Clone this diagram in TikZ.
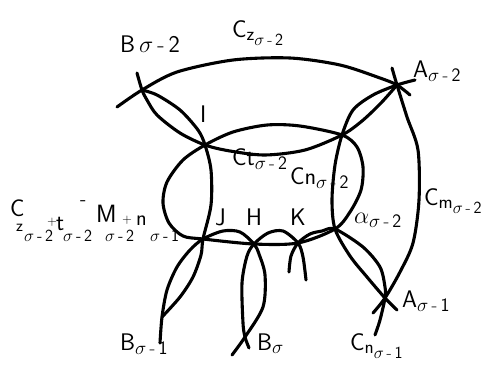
\RequirePackage{fix-cm}
\documentclass[tikz,border=0pt]{standalone}
\usepackage{amsmath}
\DeclareMathSizes{24}{24}{19}{17}
\newcommand\sm[1]{\sigma\,\text{-}\,\mathsf{#1}}
\newcommand\pp[4]{\put(#1,#2){\fontsize{#3}{#3}\selectfont\sffamily #4}}
\newcommand\sg[1]{$\sigma$\,-\,#1}
\begin{document}
\begin{tikzpicture}[x=1pt,y=-1pt,
  curve/.style={line width=3.1pt,line cap=round,line join=round},
  lab/.style={inner sep=0pt,anchor=base west,font=\fontsize{24}{28}\selectfont}]
\useasboundingbox (0,0) rectangle (488,373);
\coordinate (BB2) at (142,90);
\coordinate (AA2) at (397,85);
\coordinate (I) at (205,145);
\coordinate (CN) at (342,135);
\coordinate (J) at (203,239);
\coordinate (H) at (254,244);
\coordinate (K) at (298,243);
\coordinate (S2) at (335,229);
\coordinate (AA1) at (385,298);
\coordinate (BS) at (245,337);
\coordinate (B1) at (162,317);
% C_z arc
\draw[curve] plot[smooth] coordinates {(117,107) (BB2) (177,72) (233,60) (290,58) (340,65) (380,78) (AA2) (410,95)};
% Ct line
\draw[curve] plot[smooth] coordinates {(137,73) (BB2) (147,100) (157,115) (180,133) (I) (230,151) (265,155) (305,150) (CN) (362,121) (381,103) (AA2)};
% upper lens + vertical + lens to B sigma-1
\draw[curve] plot[smooth] coordinates {(BB2) (157,95) (180,110) (198,130) (I) (211,170) (211,205) (J) (201,255) (193,277) (180,297) (B1)};
% closed loop
\draw[curve] plot[smooth cycle] coordinates {(I) (233,132) (267,125) (300,126) (CN) (357,147) (363,167) (361,190) (350,212) (S2) (K) (H) (J) (183,236) (169,223) (163,203) (167,182) (183,160)};
% arch J-H and B sigma
\draw[curve] plot[smooth] coordinates {(160,343) (B1) (167,290) (177,267) (190,250) (J) (223,231) (240,232) (H) (259,254) (265,275) (263,307) (BS) (232,355)};
% arch H-K
\draw[curve] plot[smooth] coordinates {(249,348) (BS) (243,323) (242,283) (247,256) (H) (268,233) (283,231) (K) (303,257) (306,280)};
% arch K-S2 and on to A sigma-1
\draw[curve] plot[smooth] coordinates {(289,272) (291,256) (K) (310,234) (322,231) (S2) (363,247) (380,267) (385,287) (AA1) (380,320) (375,335)};
% Cn line
\draw[curve] plot[smooth] coordinates {(415,80) (AA2) (373,95) (353,110) (CN) (335,165) (332,200) (S2) (350,256) (367,277) (AA1) (397,310)};
% C_m arc
\draw[curve] plot[smooth] coordinates {(392,68) (AA2) (407,117) (418,150) (419,200) (413,243) (400,272) (AA1) (373,313)};
% labels
\node[lab] (lB2) at (120,52) {$\mathsf{B}\,\sm{2}$};
\node[lab] (lCz) at (232,37) {$\mathsf{C}_{\mathsf{z}_{\sm{2}}}$};
\node[lab] (lA2) at (413,77) {$\mathsf{A}_{\sm{2}}$};
\node[lab] (lI) at (200,122) {$\mathsf{I}$};
\node[lab] (lCt) at (232,165) {$\mathsf{Ct}_{\sm{2}}$};
\node[lab] (lCn) at (290,184) {$\mathsf{Cn}_{\sm{2}}$};
\node[lab] (lal) at (354,223) {$\alpha_{\sm{2}}$};
\node[lab] (lCm) at (424,205) {$\mathsf{C}_{\mathsf{m}_{\sm{2}}}$};
\node[lab] (lJ) at (215,225) {$\mathsf{J}$};
\node[lab] (lH) at (246,225) {$\mathsf{H}$};
\node[lab] (lK) at (290,225) {$\mathsf{K}$};
\node[inner sep=0pt,anchor=south west] (lsum) at (10,242) {\setlength{\unitlength}{1pt}\begin{picture}(160,45)
\pp{0}{25}{24}{C}
\pp{6}{10}{17}{z}
\pp{14}{0}{17}{\sg{2}}
\pp{37}{16}{13}{+}
\pp{46}{11}{24}{t}
\pp{53}{0}{17}{\sg{2}}
\pp{70}{36}{20}{-}
\pp{86}{19}{25}{M}
\pp{95}{0}{17}{\sg{2}}
\pp{112}{18}{13}{+}
\pp{126}{16}{22}{n}
\pp{140}{0}{17}{\sg{1}}
\end{picture}};
\node[lab] (lB1) at (120,350) {$\mathsf{B}_{\sm{1}}$};
\node[lab] (lBs) at (257,350) {$\mathsf{B}_{\sigma}$};
\node[lab] (lA1) at (402,307) {$\mathsf{A}_{\sm{1}}$};
\node[lab] (lCn1) at (350,350) {$\mathsf{C}_{\mathsf{n}_{\sm{1}}}$};
\end{tikzpicture}
\end{document}
